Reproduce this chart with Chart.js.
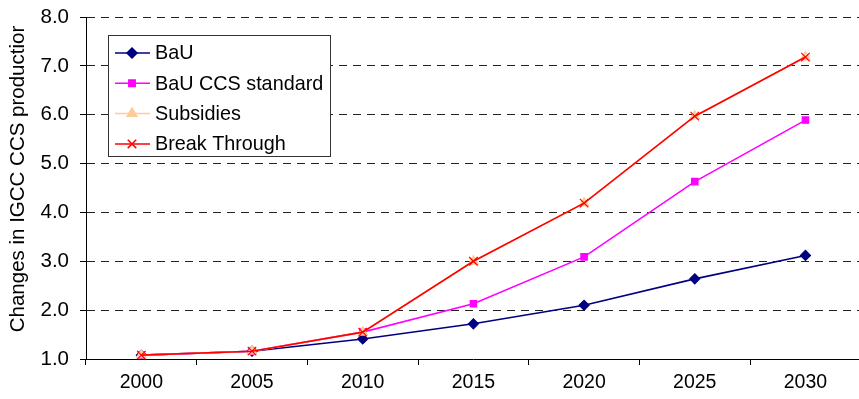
<!DOCTYPE html>
<html>
<head>
<meta charset="utf-8">
<script src="https://cdn.jsdelivr.net/npm/chart.js@4/dist/chart.umd.min.js"></script>
<style>
    html, body { margin: 0; padding: 0; background: #fff; overflow: hidden; }
    #wrap { width: 868px; height: 399px; }
</style>
</head>
<body>
<div id="wrap"><canvas id="igccChart" width="868" height="399"></canvas></div>
<script>
// ===================================
// IGCC CCS production chart
// ===================================

const years = ['2000', '2005', '2010', '2015', '2020', '2025', '2030'];
const bauValues = [1.08, 1.16, 1.41, 1.72, 2.10, 2.64, 3.12];
const ccsStandardValues = [1.08, 1.16, 1.55, 2.13, 3.09, 4.63, 5.89];
const subsidiesValues = [1.08, 1.16, 1.55, 3.00, 4.19, 5.97, 7.18];
const breakThroughValues = [1.08, 1.16, 1.55, 3.00, 4.19, 5.97, 7.18];
const yTicks = [1, 2, 3, 4, 5, 6, 7, 8];
const yTitle = 'Changes in IGCC CCS productior';

const FONT = 'Arial, "Liberation Sans", sans-serif';

// Legend box drawn inside the plot like the original
const boxLegend = {
    id: 'boxLegend',
    afterDraw(chart) {
        const ctx = chart.ctx;
        ctx.save();
        ctx.fillStyle = '#fff';
        ctx.fillRect(108.5, 35.5, 222, 121);
        ctx.strokeStyle = '#333';
        ctx.lineWidth = 1;
        ctx.strokeRect(108.5, 35.5, 222, 121);
        chart.data.datasets.forEach((ds, i) => {
            const y = 53 + i * 30.3;
            ctx.strokeStyle = ds.borderColor;
            ctx.lineWidth = 1.5;
            ctx.beginPath();
            ctx.moveTo(115, y);
            ctx.lineTo(150, y);
            ctx.stroke();
            Chart.helpers.drawPoint(ctx, {
                pointStyle: ds.pointStyle,
                radius: ds.pointRadius,
                borderWidth: ds.pointBorderWidth || 1
            }, 132, y);
            ctx.fillStyle = ds.pointBackgroundColor;
            ctx.strokeStyle = ds.pointBorderColor;
            ctx.fill();
            ctx.fillStyle = '#000';
            ctx.font = '19.8px ' + FONT;
            ctx.textBaseline = 'middle';
            ctx.fillText(ds.label, 155, y + 1);
        });
        ctx.restore();
    }
};

// Rotated axis title
const yAxisTitle = {
    id: 'yAxisTitle',
    afterDraw(chart) {
        const ctx = chart.ctx;
        ctx.save();
        ctx.translate(18, 179);
        ctx.rotate(-Math.PI / 2);
        ctx.font = '20.5px ' + FONT;
        ctx.fillStyle = '#000';
        ctx.textAlign = 'center';
        ctx.textBaseline = 'middle';
        ctx.fillText(yTitle, 0, 0);
        ctx.restore();
    }
};

function lineSet(label, data, color, fill, style, radius, order) {
    return {
        label: label,
        data: data,
        borderColor: color,
        backgroundColor: fill,
        borderWidth: 1.6,
        pointStyle: style,
        pointRadius: radius,
        pointHoverRadius: radius,
        pointBackgroundColor: fill,
        pointBorderColor: color,
        pointBorderWidth: 1.2,
        tension: 0,
        order: order
    };
}

new Chart(document.getElementById('igccChart'), {
    type: 'line',
    data: {
        labels: years,
        datasets: [
            lineSet('BaU', bauValues, '#000080', '#000080', 'rectRot', 5, 4),
            lineSet('BaU CCS standard', ccsStandardValues, '#FF00FF', '#FF00FF', 'rect', 4.5, 3),
            lineSet('Subsidies', subsidiesValues, '#FFCC99', '#FFCC99', 'triangle', 5.5, 2),
            lineSet('Break Through', breakThroughValues, '#FF0000', '#FF0000', 'crossRot', 6, 1)
        ]
    },
    options: {
        responsive: false,
        animation: false,
        layout: { padding: { left: 0, right: 3, top: 17, bottom: 0 } },
        plugins: {
            legend: { display: false },
            tooltip: { enabled: false }
        },
        scales: {
            x: {
                offset: true,
                afterFit: function(scale) {
                    scale.height = 40;
                    scale.paddingLeft = 0;
                    scale.paddingRight = 0;
                },
                grid: {
                    offset: true,
                    drawOnChartArea: false,
                    drawTicks: true,
                    tickLength: 6,
                    color: '#000'
                },
                border: { color: '#000', width: 1 },
                ticks: {
                    color: '#000',
                    padding: 6,
                    font: { family: FONT, size: 19.5 },
                    maxRotation: 0
                }
            },
            y: {
                min: 1,
                max: 8,
                afterFit: function(scale) {
                    scale.width = 86;
                    scale.paddingTop = 0;
                    scale.paddingBottom = 0;
                },
                afterBuildTicks: function(scale) {
                    scale.ticks = yTicks.map(v => ({ value: v }));
                },
                grid: {
                    color: '#222',
                    lineWidth: 1,
                    drawTicks: true,
                    tickLength: 6,
                    tickColor: '#000',
                    tickBorderDash: []
                },
                border: { color: '#000', width: 1, dash: [8, 6] },
                ticks: {
                    color: '#000',
                    padding: 11,
                    font: { family: FONT, size: 20.5 },
                    callback: v => Number(v).toFixed(1)
                }
            }
        }
    },
    plugins: [yAxisTitle, boxLegend]
});
</script>
</body>
</html>
